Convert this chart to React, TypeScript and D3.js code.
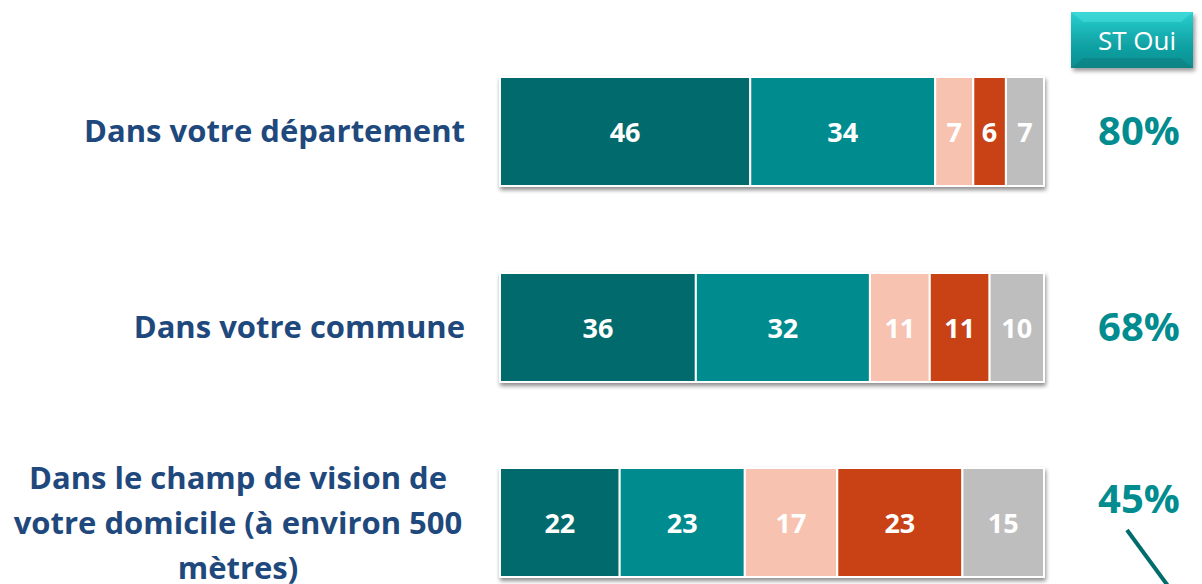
import React from "react";
import * as d3 from "d3";

const categories = [
  ["Dans votre département"],
  ["Dans votre commune"],
  ["Dans le champ de vision de", "votre domicile (à environ 500", "mètres)"],
];
const ouiTout = [46, 36, 22];
const ouiPlutot = [34, 32, 23];
const nonPlutot = [7, 11, 17];
const nonPasDuTout = [6, 11, 23];
const nsp = [7, 10, 15];
const stOui = [80, 68, 45];
const seriesColors = ["#026b6c", "#018c8f", "#f8c2b0", "#c84312", "#bebebe"];

const W = 1202;
const H = 584;

export default function App() {
  const series = [ouiTout, ouiPlutot, nonPlutot, nonPasDuTout, nsp];
  const x = d3.scaleLinear().domain([0, 100]).range([500, 1044]);
  const font = "'Open Sans', sans-serif";
  const rows = categories.map((_, i) => {
    let acc = 0;
    return series.map((s, k) => {
      const x0 = acc;
      acc += s[i];
      return { k, v: s[i], x0, x1: acc };
    });
  });
  const bh = 109;
  const tops = [77, 273, 468];
  return (
    <svg width={W} height={H} style={{ position: "absolute", left: 0, top: 0, background: "#fff" }}>
      <defs>
        <filter id="sh" x="-5%" y="-20%" width="110%" height="150%">
          <feGaussianBlur in="SourceAlpha" stdDeviation="2" />
          <feOffset dx="1" dy="3" result="b" />
          <feComponentTransfer><feFuncA type="linear" slope="0.45" /></feComponentTransfer>
          <feMerge><feMergeNode /><feMergeNode in="SourceGraphic" /></feMerge>
        </filter>
        <linearGradient id="stg" x1="0" y1="0" x2="0" y2="1">
          <stop offset="0" stopColor="#2ad0d0" />
          <stop offset="0.5" stopColor="#13a8aa" />
          <stop offset="1" stopColor="#0a8e90" />
        </linearGradient>
        <filter id="sh2" x="-10%" y="-10%" width="130%" height="140%">
          <feGaussianBlur in="SourceAlpha" stdDeviation="2" />
          <feOffset dx="2" dy="3" />
          <feComponentTransfer><feFuncA type="linear" slope="0.4" /></feComponentTransfer>
          <feMerge><feMergeNode /><feMergeNode in="SourceGraphic" /></feMerge>
        </filter>
      </defs>
      <g filter="url(#sh2)">
        <rect x={1071} y={12} width={122} height={56} fill="url(#stg)" />
        <polygon points="1071,12 1193,12 1181,22 1083,22" fill="#4ee0e0" opacity={0.5} />
        <polygon points="1071,68 1193,68 1181,58 1083,58" fill="#067a7c" opacity={0.5} />
      </g>
      <text x={1137} y={50} textAnchor="middle" fill="#fff" fontFamily={font} fontSize={26}>ST Oui</text>
      {rows.map((segs, i) => {
        const top = tops[i];
        const cy = top + bh / 2;
        const lines = categories[i];
        return (
          <g key={i}>
            <g filter="url(#sh)">
              {segs.map((s) => (
                <rect key={s.k} x={x(s.x0)} y={top} width={x(s.x1) - x(s.x0)} height={bh} fill={seriesColors[s.k]} stroke="#fff" strokeWidth={2} />
              ))}
            </g>
            {segs.map((s) => (
              <text key={s.k} x={(x(s.x0) + x(s.x1)) / 2} y={cy + 10} textAnchor="middle" fill="#fff" fontFamily={font} fontWeight="bold" fontSize={27}>{s.v}</text>
            ))}
            {lines.length === 1 ? (
              <text x={465} y={cy + 10} textAnchor="end" fill="#1f497d" fontFamily={font} fontWeight="bold" fontSize={31}>{lines[0]}</text>
            ) : (
              lines.map((l, j) => (
                <text key={j} x={238} y={cy + 11 + (j - 1) * 45} textAnchor="middle" fill="#1f497d" fontFamily={font} fontWeight="bold" fontSize={31}>{l}</text>
              ))
            )}
            <text x={1139} y={i === 2 ? 513 : cy + 13} textAnchor="middle" fill="#018c8f" fontFamily={font} fontWeight="bold" fontSize={40}>{stOui[i] + "%"}</text>
          </g>
        );
      })}
      <line x1={1127} y1={530} x2={1171} y2={590} stroke="#026b6c" strokeWidth={4} />
    </svg>
  );
}
